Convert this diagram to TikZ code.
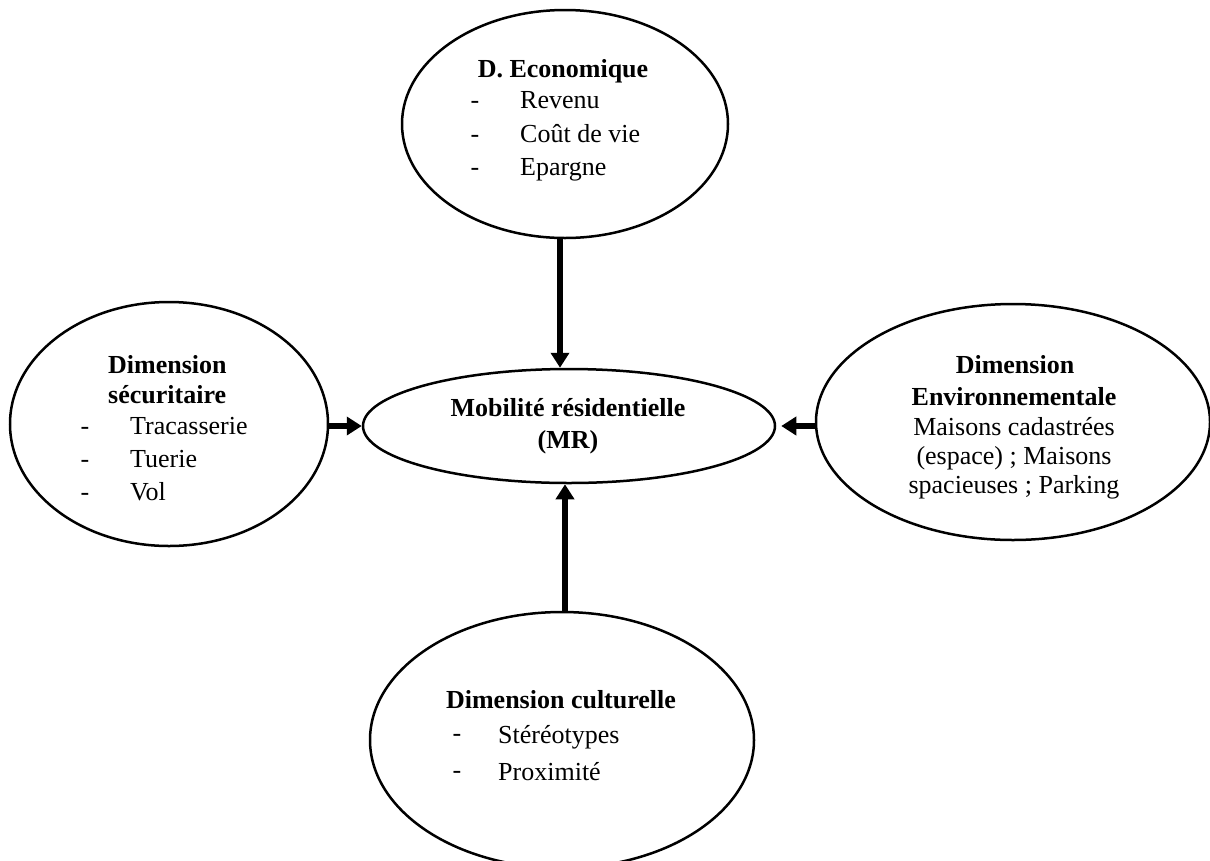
\documentclass[tikz,border=0pt]{standalone}
\usepackage{fontspec}
\setmainfont{Liberation Serif}
\usetikzlibrary{shapes.geometric,arrows.meta}
\begin{document}
\begin{tikzpicture}[x=1pt,y=-1pt,
  oval/.style={draw,ellipse,line width=2.5pt,inner sep=0pt},
  txt/.style={inner sep=0pt,font=\fontsize{26}{32}\selectfont},
  ttl/.style={txt,font=\fontsize{26}{32}\selectfont\bfseries},
  arr/.style={line width=5.5pt,-{Triangle[length=15pt,width=18pt]}}]
\useasboundingbox (0,0) rectangle (1210,860);
\clip (0,0) rectangle (1210,860);
% ellipses
\node[oval,minimum width=326pt,minimum height=228pt] (eco) at (565,124) {};
\node[oval,minimum width=412pt,minimum height=114pt] (mr) at (569,426) {};
\node[oval,minimum width=318pt,minimum height=244pt] (secu) at (169,424) {};
\node[oval,minimum width=394pt,minimum height=236pt] (env) at (1013,422) {};
\node[oval,minimum width=384pt,minimum height=256pt] (cult) at (562,740) {};
% economique
\node[ttl,anchor=base] (ecot) at (563,77) {D. Economique};
\node[txt,anchor=base] (ecod1) at (475,108) {-};
\node[txt,anchor=base] (ecod2) at (475,142) {-};
\node[txt,anchor=base] (ecod3) at (475,175) {-};
\node[txt,anchor=base west] (ecoi1) at (520,108) {Revenu};
\node[txt,anchor=base west] (ecoi2) at (520,142) {Coût de vie};
\node[txt,anchor=base west] (ecoi3) at (520,175) {Epargne};
% MR
\node[ttl,anchor=base] (mrt1) at (568,416) {Mobilité résidentielle};
\node[ttl,anchor=base] (mrt2) at (568,448) {(MR)};
% securitaire
\node[ttl,anchor=base west] (sect1) at (108,373) {Dimension};
\node[ttl,anchor=base west] (sect2) at (108,403) {sécuritaire};
\node[txt,anchor=base] (secd1) at (85,434) {-};
\node[txt,anchor=base] (secd2) at (85,467) {-};
\node[txt,anchor=base] (secd3) at (85,500) {-};
\node[txt,anchor=base west] (seci1) at (130,434) {Tracasserie};
\node[txt,anchor=base west] (seci2) at (130,467) {Tuerie};
\node[txt,anchor=base west] (seci3) at (130,500) {Vol};
% environnementale
\node[ttl,anchor=base] (envt1) at (1015,373) {Dimension};
\node[ttl,anchor=base] (envt2) at (1014,405) {Environnementale};
\node[txt,anchor=base] (envi1) at (1014,435) {Maisons cadastrées};
\node[txt,anchor=base] (envi2) at (1014,464) {(espace) ; Maisons};
\node[txt,anchor=base] (envi3) at (1014,493) {spacieuses ; Parking};
% culturelle
\node[ttl,anchor=base] (cultt) at (561,708) {Dimension culturelle};
\node[txt,anchor=base] (culd1) at (457,741) {-};
\node[txt,anchor=base] (culd2) at (457,778) {-};
\node[txt,anchor=base west] (culi1) at (498,743) {Stéréotypes};
\node[txt,anchor=base west] (culi2) at (498,780) {Proximité};
% arrows
\draw[arr] ([xshift=-5pt]eco.south) -- ([xshift=-9pt]mr.north);
\draw[arr] ([xshift=3pt]cult.north) -- ([xshift=-4pt]mr.south);
\draw[arr] ([yshift=-2pt]secu.east) -- (mr.west);
\draw[arr] ([yshift=-4pt]env.west) -- ([xshift=5pt]mr.east);
\end{tikzpicture}
\end{document}
